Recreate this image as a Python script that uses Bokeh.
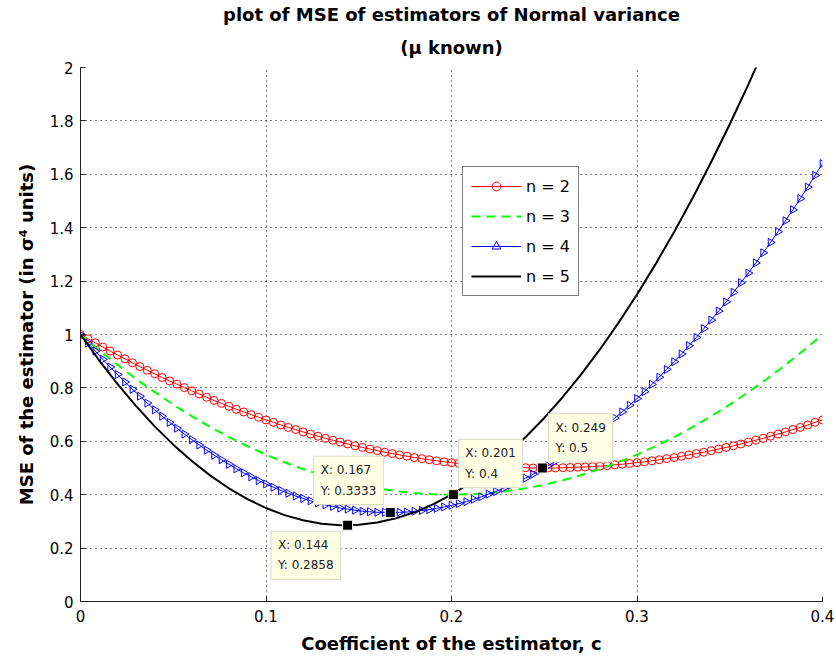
import math
from bokeh.plotting import figure
from bokeh.models import Range1d, FixedTicker, Legend, LegendItem, Label, Title
from bokeh.embed import file_html
from bokeh.resources import INLINE

# ---------------- data ----------------
c_fine = [round(0.004 * k, 3) for k in range(101)]  # c grid for marker series
c_coarse = [round(0.01 * k, 2) for k in range(41)]  # c grid for plain lines

mse_n2 = [1.000, 0.984, 0.969, 0.953, 0.938, 0.923, 0.909, 0.894, 0.880, 0.866,
          0.853, 0.839, 0.826, 0.814, 0.801, 0.789, 0.777, 0.765, 0.753, 0.742,
          0.731, 0.720, 0.710, 0.700, 0.690, 0.680, 0.671, 0.661, 0.652, 0.644,
          0.635, 0.627, 0.619, 0.611, 0.604, 0.597, 0.590, 0.583, 0.577, 0.571,
          0.565, 0.559, 0.554, 0.549, 0.544, 0.539, 0.535, 0.531, 0.527, 0.523,
          0.520, 0.517, 0.514, 0.512, 0.509, 0.507, 0.505, 0.504, 0.503, 0.502,
          0.501, 0.500, 0.500, 0.500, 0.500, 0.501, 0.502, 0.503, 0.504, 0.505,
          0.507, 0.509, 0.512, 0.514, 0.517, 0.520, 0.523, 0.527, 0.531, 0.535,
          0.539, 0.544, 0.549, 0.554, 0.559, 0.565, 0.571, 0.577, 0.583, 0.590,
          0.597, 0.604, 0.611, 0.619, 0.627, 0.635, 0.644, 0.652, 0.661, 0.671,
          0.680]

mse_n3 = [1.0, 0.9415, 0.886, 0.8335, 0.784, 0.7375, 0.694, 0.6535, 0.616, 0.5815,
          0.55, 0.5215, 0.496, 0.4735, 0.454, 0.4375, 0.424, 0.4135, 0.406, 0.4015,
          0.4, 0.4015, 0.406, 0.4135, 0.424, 0.4375, 0.454, 0.4735, 0.496, 0.5215,
          0.55, 0.5815, 0.616, 0.6535, 0.694, 0.7375, 0.784, 0.8335, 0.886, 0.9415,
          1.0]

mse_n4 = [1.000, 0.968, 0.938, 0.907, 0.878, 0.850, 0.822, 0.795, 0.769, 0.743,
          0.718, 0.694, 0.671, 0.649, 0.627, 0.606, 0.586, 0.567, 0.548, 0.531,
          0.514, 0.497, 0.482, 0.467, 0.453, 0.440, 0.428, 0.416, 0.405, 0.395,
          0.386, 0.377, 0.369, 0.362, 0.356, 0.350, 0.346, 0.342, 0.338, 0.336,
          0.334, 0.334, 0.333, 0.334, 0.335, 0.338, 0.341, 0.344, 0.349, 0.354,
          0.360, 0.367, 0.374, 0.383, 0.392, 0.402, 0.412, 0.424, 0.436, 0.449,
          0.462, 0.477, 0.492, 0.508, 0.525, 0.542, 0.561, 0.580, 0.600, 0.620,
          0.642, 0.664, 0.687, 0.710, 0.735, 0.760, 0.786, 0.813, 0.840, 0.869,
          0.898, 0.927, 0.958, 0.989, 1.022, 1.054, 1.088, 1.122, 1.158, 1.194,
          1.230, 1.268, 1.306, 1.345, 1.385, 1.426, 1.467, 1.509, 1.552, 1.596,
          1.640]

mse_n5 = [1.0, 0.9035, 0.814, 0.7315, 0.656, 0.5875, 0.526, 0.4715, 0.424, 0.3835,
          0.35, 0.3235, 0.304, 0.2915, 0.286, 0.2875, 0.296, 0.3115, 0.334, 0.3635,
          0.4, 0.4435, 0.494, 0.5515, 0.616, 0.6875, 0.766, 0.8515, 0.944, 1.0435,
          1.15, 1.2635, 1.384, 1.5115, 1.646, 1.7875, 1.936, 2.0915, 2.254, 2.4235,
          2.6]

series_labels = ["n = 2", "n = 3", "n = 4", "n = 5"]

tip_x = [0.144, 0.167, 0.201, 0.249]
tip_y = [0.2858, 0.3333, 0.4, 0.5]

x_ticks = [0, 0.1, 0.2, 0.3, 0.4]
x_tick_labels = ["0", "0.1", "0.2", "0.3", "0.4"]
y_ticks = [0, 0.2, 0.4, 0.6, 0.8, 1.0, 1.2, 1.4, 1.6, 1.8, 2.0]
y_tick_labels = ["0", "0.2", "0.4", "0.6", "0.8", "1", "1.2", "1.4", "1.6", "1.8", "2"]

title_line1 = "plot of MSE of estimators of Normal variance"
title_line2 = "(\u03bc known)"
x_label = "Coefficient of the estimator, c"
y_label = "MSE of the estimator (in \u03c3\u2074 units)"

# ---------------- figure ----------------
FONT = "DejaVu Sans"
p = figure(width=836, height=664, output_backend="svg", toolbar_location=None,
           x_range=Range1d(0, 0.4), y_range=Range1d(0, 2),
           min_border_left=80, min_border_right=14, min_border_top=67,
           min_border_bottom=63)
p.outline_line_color = None
p.background_fill_color = "white"
p.border_fill_color = "white"

# titles: first added sits nearest the frame
p.add_layout(Title(text=title_line2, align="center", text_font=FONT,
                   text_color="black", text_font_size="18px",
                   text_font_style="bold", standoff=20), "above")
p.add_layout(Title(text=title_line1, align="center", text_font=FONT,
                   text_color="black", text_font_size="18px",
                   text_font_style="bold", standoff=0), "above")

p.xaxis.ticker = FixedTicker(ticks=x_ticks)
p.yaxis.ticker = FixedTicker(ticks=y_ticks)
p.xaxis.major_label_overrides = {t: l for t, l in zip(x_ticks, x_tick_labels)}
p.yaxis.major_label_overrides = {t: l for t, l in zip(y_ticks, y_tick_labels)}
p.xaxis.axis_label = x_label
p.yaxis.axis_label = y_label
for ax in (p.xaxis, p.yaxis):
    ax.axis_label_text_font = FONT
    ax.axis_label_text_font_size = "18px"
    ax.axis_label_text_font_style = "bold"
    ax.axis_label_text_color = "black"
    ax.major_label_text_font = FONT
    ax.major_label_text_font_size = "15px"
    ax.major_label_text_color = "black"
    ax.axis_line_color = "#222222"
    ax.major_tick_line_color = "#222222"
    ax.major_tick_in = 5
    ax.major_tick_out = 0
    ax.minor_tick_line_color = None
p.xaxis.major_label_standoff = 8
p.yaxis.major_label_standoff = 7
p.xaxis.axis_label_standoff = 8
p.yaxis.axis_label_standoff = 10

p.grid.grid_line_color = "black"
p.grid.grid_line_dash = "1 4"
p.grid.grid_line_alpha = 1.0

# ---------------- series ----------------
r2l = p.line(c_fine, mse_n2, line_color="red", line_width=1)
r2m = p.scatter(c_fine, mse_n2, marker="circle", size=8, line_color="red",
                fill_color=None, line_width=1)
r3 = p.line(c_coarse, mse_n3, line_color="#00ff00", line_width=2, line_dash="9 6")
r4l = p.line(c_fine, mse_n4, line_color="blue", line_width=1)
r4m = p.scatter(c_fine, mse_n4, marker="triangle", angle=-math.pi / 2, size=8,
                line_color="blue", fill_color=None, line_width=1)
r5 = p.line(c_coarse, mse_n5, line_color="black", line_width=2)

# ---------------- data tips ----------------
p.scatter(tip_x, tip_y, marker="square", size=10, fill_color="black",
          line_color="#fffff0", line_width=1)
tip_place = [("top_right", -7, -6), ("bottom_right", -7, 8),
             ("bottom_left", 5, 7), ("bottom_left", 6, 6)]
for tx, ty, (anc, dx, dy) in zip(tip_x, tip_y, tip_place):
    lab = Label(x=tx, y=ty, text=f"X: {tx:g}\nY: {ty:g}", anchor=anc,
                x_offset=dx, y_offset=dy, text_font=FONT, text_font_size="12px",
                text_color="#222222", background_fill_color="#ffffe6",
                border_line_color="#d9d9c4", border_line_width=1, padding=7,
                text_line_height=1.45)
    p.add_layout(lab)

# ---------------- legend ----------------
legend = Legend(items=[LegendItem(label=series_labels[0], renderers=[r2l, r2m]),
                       LegendItem(label=series_labels[1], renderers=[r3]),
                       LegendItem(label=series_labels[2], renderers=[r4l, r4m]),
                       LegendItem(label=series_labels[3], renderers=[r5])],
                location=(382, 305), border_line_color="black", border_line_width=1,
                background_fill_color="white", background_fill_alpha=1,
                label_text_font=FONT, label_text_font_size="16px",
                label_text_color="black",
                glyph_width=50, glyph_height=22, label_height=22, spacing=8,
                padding=8, margin=0, label_standoff=5)
p.add_layout(legend)

open("out.html", "w").write(file_html(p, INLINE))
